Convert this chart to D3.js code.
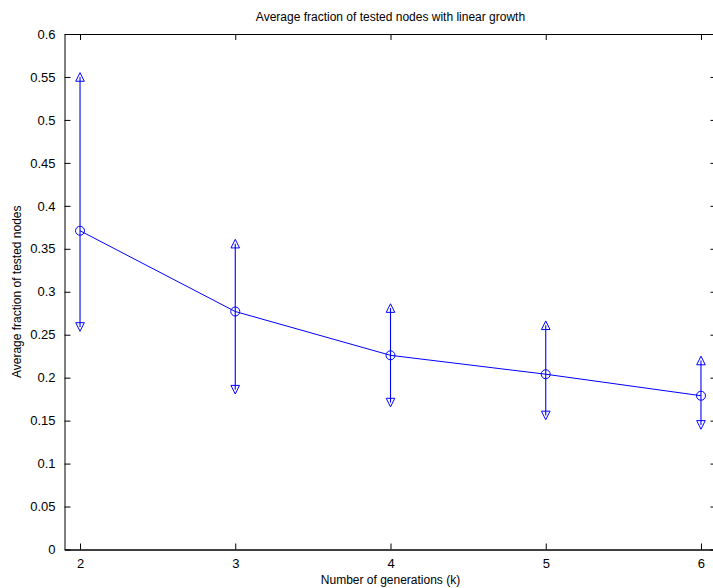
<!DOCTYPE html>
<html>
<head>
<meta charset="utf-8">
<script src="https://cdn.jsdelivr.net/npm/d3@7"></script>
<style>
  body { margin: 0; background: #fff; }
  text { font-family: "Liberation Sans", Arial, Helvetica, sans-serif; fill: #000; }
</style>
</head>
<body>
<div id="chart"></div>
<script>
// values
var generations = [2, 3, 4, 5, 6];
var meanFraction = [0.371, 0.277, 0.226, 0.204, 0.179];
var upperFraction = [0.550, 0.356, 0.281, 0.261, 0.220];
var lowerFraction = [0.259, 0.186, 0.171, 0.156, 0.145];
var yTicks = [0, 0.05, 0.1, 0.15, 0.2, 0.25, 0.3, 0.35, 0.4, 0.45, 0.5, 0.55, 0.6];
var xTicks = [2, 3, 4, 5, 6];

var width = 713, height = 588;
// plot box runs past the right edge of the picture
var boxLeft = 64.5, boxRight = 716.5, boxTop = 34, boxBottom = 549.5;
var tickLen = 6;
var blue = "#0000ff";

var x = d3.scaleLinear().domain([1.9, 6.1]).range([boxLeft, boxRight]);
var y = d3.scaleLinear().domain([0, 0.6]).range([boxBottom, boxTop]);

var svg = d3.select("#chart")
	.append("svg")
	.attr("width", width)
	.attr("height", height);

// axes (matlab style box with inward ticks)
svg.append("g")
	.attr("transform", "translate(0," + boxBottom + ")")
	.call(d3.axisBottom(x).tickValues(xTicks).tickSizeInner(-tickLen).tickSizeOuter(0).tickPadding(9).tickFormat(d3.format("d")))
	.call(function(g) { g.select(".domain").attr("stroke-width", 1.3); });

svg.append("g")
	.attr("transform", "translate(0," + boxTop + ")")
	.call(d3.axisTop(x).tickValues(xTicks).tickSizeInner(-tickLen).tickSizeOuter(0).tickFormat(""));

svg.append("g")
	.attr("transform", "translate(" + boxLeft + ",0)")
	.call(d3.axisLeft(y).tickValues(yTicks).tickSizeInner(-tickLen).tickSizeOuter(0).tickPadding(9)
		.tickFormat(function(d) { return String(+d.toFixed(2)); }));

svg.append("g")
	.attr("transform", "translate(" + boxRight + ",0)")
	.call(d3.axisRight(y).tickValues(yTicks).tickSizeInner(-tickLen).tickSizeOuter(0).tickFormat(""));

svg.selectAll(".tick text").style("font-size", "13px");
svg.selectAll(".tick line").attr("stroke", "#000");

// data
var data = generations.map(function(k, i) {
	return { k: k, mean: meanFraction[i], hi: upperFraction[i], lo: lowerFraction[i] };
});

// error bars
svg.selectAll(".bar")
	.data(data)
	.enter().append("line")
	.attr("class", "bar")
	.attr("x1", function(d) { return x(d.k); })
	.attr("x2", function(d) { return x(d.k); })
	.attr("y1", function(d) { return y(d.hi); })
	.attr("y2", function(d) { return y(d.lo); })
	.style("stroke", blue)
	.style("stroke-width", 1.1);

// mean line
var line = d3.line()
	.x(function(d) { return x(d.k); })
	.y(function(d) { return y(d.mean); });

svg.append("path")
	.datum(data)
	.attr("d", line)
	.style("fill", "none")
	.style("stroke", blue)
	.style("stroke-width", 1);

// circles at the means
svg.selectAll(".mean")
	.data(data)
	.enter().append("circle")
	.attr("class", "mean")
	.attr("cx", function(d) { return x(d.k); })
	.attr("cy", function(d) { return y(d.mean); })
	.attr("r", 4.5)
	.style("fill", "none")
	.style("stroke", blue)
	.style("stroke-width", 1);

// triangles at the bounds
var s = 4.3;
svg.selectAll(".up")
	.data(data)
	.enter().append("path")
	.attr("class", "up")
	.attr("d", function(d) {
		var cx = x(d.k), cy = y(d.hi);
		return "M" + cx + "," + (cy - s) + "L" + (cx + s) + "," + (cy + s) + "L" + (cx - s) + "," + (cy + s) + "Z";
	})
	.style("fill", "none")
	.style("stroke", blue)
	.style("stroke-width", 1);

svg.selectAll(".down")
	.data(data)
	.enter().append("path")
	.attr("class", "down")
	.attr("d", function(d) {
		var cx = x(d.k), cy = y(d.lo);
		return "M" + cx + "," + (cy + s) + "L" + (cx + s) + "," + (cy - s) + "L" + (cx - s) + "," + (cy - s) + "Z";
	})
	.style("fill", "none")
	.style("stroke", blue)
	.style("stroke-width", 1);

// titles
svg.append("text")
	.attr("x", (boxLeft + boxRight) / 2)
	.attr("y", 21)
	.attr("text-anchor", "middle")
	.style("font-size", "12px")
	.text("Average fraction of tested nodes with linear growth");

svg.append("text")
	.attr("x", (boxLeft + boxRight) / 2)
	.attr("y", 584)
	.attr("text-anchor", "middle")
	.style("font-size", "12px")
	.text("Number of generations (k)");

svg.append("text")
	.attr("transform", "translate(21," + (boxTop + boxBottom) / 2 + ") rotate(-90)")
	.attr("text-anchor", "middle")
	.style("font-size", "12px")
	.text("Average fraction of tested nodes");
</script>
</body>
</html>
